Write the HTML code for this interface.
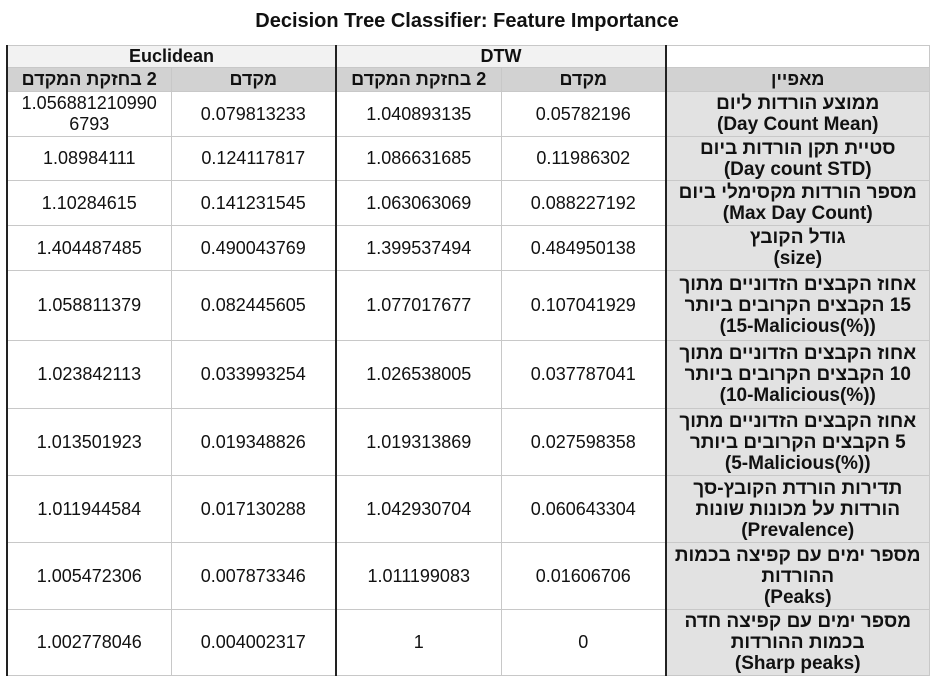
<!DOCTYPE html>
<html><head><meta charset="utf-8"><style>
body{margin:0;background:#fff;width:934px;height:682px;overflow:hidden;font-family:"Liberation Sans","Noto Sans CJK JP",sans-serif;}
.title{position:absolute;top:10px;left:0;width:934px;text-align:center;font-weight:bold;font-size:20px;color:#111;}
table{position:absolute;left:6px;top:45px;border-collapse:collapse;table-layout:fixed;font-size:18px;color:#111;}
td{border:1px solid #c8c8c8;text-align:center;vertical-align:middle;padding:0 1px;line-height:21px;overflow:hidden;white-space:nowrap;}
.h1 td{background:#f2f2f2;font-weight:bold;height:21px;}
.h2 td{background:#d2d2d2;font-weight:bold;height:23px;}
.rtl{direction:rtl;}
.f{background:#e2e2e2;font-weight:bold;direction:rtl;font-size:19px;line-height:21px;}
.tl{border-left:2px solid #222;}
.tr{border-right:2px solid #222;}
</style></head><body>
<div class="title">Decision Tree Classifier: Feature Importance</div>
<table>
<colgroup><col style="width:164px"><col style="width:165px"><col style="width:165px"><col style="width:165px"><col style="width:263px"></colgroup>
<tr class="h1"><td colspan="2" class="tl tr">Euclidean</td><td colspan="2" class="tr">DTW</td><td style="background:#fff"></td></tr>
<tr class="h2"><td class="tl rtl">2 בחזקת המקדם</td><td class="tr rtl">מקדם</td><td class="rtl">2 בחזקת המקדם</td><td class="tr rtl">מקדם</td><td class="rtl">מאפיין</td></tr>
<tr style="height:45px"><td class="tl">1.056881210990<br>6793</td><td class="tr">0.079813233</td><td>1.040893135</td><td class="tr">0.05782196</td><td class="f">ממוצע הורדות ליום<br><span dir="ltr">(Day Count Mean)</span></td></tr>
<tr style="height:44px"><td class="tl">1.08984111</td><td class="tr">0.124117817</td><td>1.086631685</td><td class="tr">0.11986302</td><td class="f">סטיית תקן הורדות ביום<br><span dir="ltr">(Day count STD)</span></td></tr>
<tr style="height:45px"><td class="tl">1.10284615</td><td class="tr">0.141231545</td><td>1.063063069</td><td class="tr">0.088227192</td><td class="f">מספר הורדות מקסימלי ביום<br><span dir="ltr">(Max Day Count)</span></td></tr>
<tr style="height:45px"><td class="tl">1.404487485</td><td class="tr">0.490043769</td><td>1.399537494</td><td class="tr">0.484950138</td><td class="f">גודל הקובץ<br><span dir="ltr">(size)</span></td></tr>
<tr style="height:70px"><td class="tl">1.058811379</td><td class="tr">0.082445605</td><td>1.077017677</td><td class="tr">0.107041929</td><td class="f">אחוז הקבצים הזדוניים מתוך<br>15 הקבצים הקרובים ביותר<br><span dir="ltr">(15-Malicious(%))</span></td></tr>
<tr style="height:68px"><td class="tl">1.023842113</td><td class="tr">0.033993254</td><td>1.026538005</td><td class="tr">0.037787041</td><td class="f">אחוז הקבצים הזדוניים מתוך<br>10 הקבצים הקרובים ביותר<br><span dir="ltr">(10-Malicious(%))</span></td></tr>
<tr style="height:67px"><td class="tl">1.013501923</td><td class="tr">0.019348826</td><td>1.019313869</td><td class="tr">0.027598358</td><td class="f">אחוז הקבצים הזדוניים מתוך<br>5 הקבצים הקרובים ביותר<br><span dir="ltr">(5-Malicious(%))</span></td></tr>
<tr style="height:67px"><td class="tl">1.011944584</td><td class="tr">0.017130288</td><td>1.042930704</td><td class="tr">0.060643304</td><td class="f">תדירות הורדת הקובץ-סך<br>הורדות על מכונות שונות<br><span dir="ltr">(Prevalence)</span></td></tr>
<tr style="height:67px"><td class="tl">1.005472306</td><td class="tr">0.007873346</td><td>1.011199083</td><td class="tr">0.01606706</td><td class="f">מספר ימים עם קפיצה בכמות<br>ההורדות<br><span dir="ltr">(Peaks)</span></td></tr>
<tr style="height:66px"><td class="tl">1.002778046</td><td class="tr">0.004002317</td><td>1</td><td class="tr">0</td><td class="f">מספר ימים עם קפיצה חדה<br>בכמות ההורדות<br><span dir="ltr">(Sharp peaks)</span></td></tr>
</table>
</body></html>
